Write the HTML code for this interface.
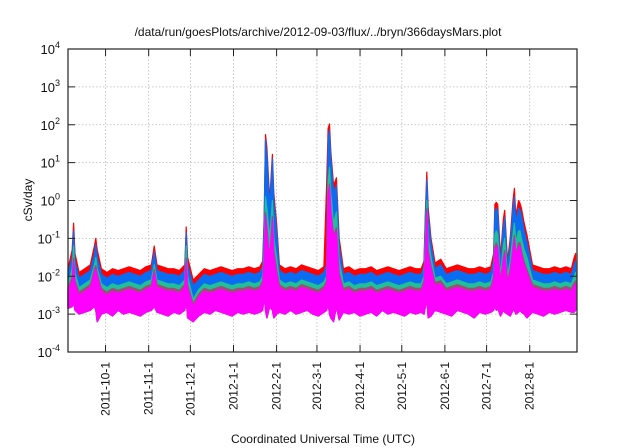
<!DOCTYPE html>
<html><head><meta charset="utf-8"><style>
html,body{margin:0;padding:0;background:#fff;}
svg{display:block;font-family:"Liberation Sans",sans-serif;}
</style></head><body>
<svg id="chart" width="640" height="448" viewBox="0 0 640 448" xmlns="http://www.w3.org/2000/svg">
<rect width="640" height="448" fill="#fff"/>
<text x="318" y="36" font-size="12" text-anchor="middle" fill="#111">/data/run/goesPlots/archive/2012-09-03/flux/../bryn/366daysMars.plot</text>
<text transform="translate(32,200) rotate(-90)" font-size="12" text-anchor="middle" fill="#111">cSv/day</text>
<text x="323" y="443" font-size="12" text-anchor="middle" fill="#111">Coordinated Universal Time (UTC)</text>
<g id="grid"></g>
<g id="series"></g>
<g id="axes"></g>
</svg>
<script>
const days = [0,3,4,5,8,12,16,19,20,21, 24,28,32,36,40,44,48,52,56,60, 62,64,68,72,76,80,84,85,86,90, 94,98,102,106,110,114,118,122,126,130, 134,138,140,141,142,143,145,147,148,150, 152,156,160,164,168,172,176,180,184,186, 187,188,189,191,193,195,198,202,206,210, 214,218,222,226,230,234,238,242,246,250, 254,256,257,258,259,261,264,268,272,276, 280,284,288,292,296,300,304,306,307,308, 309,311,313,314,316,318,320,321,322,324, 325,326,328,330,334,338,342,346,350,354, 358,362,364,365];
const redTop = [-1.8,-1.3,-0.6,-1.4,-1.9,-1.8,-1.7,-1.2,-1.0,-1.3, -1.8,-1.9,-1.8,-1.85,-1.8,-1.75,-1.8,-1.85,-1.75,-1.7, -1.2,-1.7,-1.75,-1.8,-1.8,-1.85,-1.7,-0.7,-1.5,-2.1, -1.95,-1.8,-1.85,-1.8,-1.75,-1.8,-1.85,-1.8,-1.8,-1.75, -1.8,-1.75,-1.6,-0.5,1.74,1.4,0.0,1.22,0.2,-0.6, -1.7,-1.8,-1.75,-1.8,-1.7,-1.75,-1.8,-1.85,-1.75,0.5, 1.9,2.02,1.3,0.4,0.6,-1.0,-1.8,-1.75,-1.85,-1.8, -1.8,-1.75,-1.85,-1.8,-1.75,-1.8,-1.85,-1.8,-1.75,-1.8, -1.8,-1.6,-0.3,0.75,-0.2,-1.0,-1.65,-1.55,-1.8,-1.75, -1.7,-1.75,-1.8,-1.8,-1.75,-1.8,-1.75,-1.4,-0.1,-0.05, -0.1,-1.5,-0.5,-0.26,-1.6,-1.0,0.0,0.32,-0.4,0.0, -0.07,-0.2,-0.6,-0.9,-1.7,-1.75,-1.8,-1.8,-1.75,-1.8, -1.75,-1.8,-1.5,-1.4];
const blueTop = [-1.95,-1.5,-0.8,-1.6,-2.05,-1.95,-1.85,-1.4,-1.15,-1.5, -1.95,-2.05,-1.95,-2.0,-1.95,-1.9,-1.95,-2.0,-1.9,-1.85, -1.35,-1.85,-1.9,-1.95,-1.95,-2.0,-1.85,-0.85,-1.7,-2.25, -2.1,-1.95,-2.0,-1.95,-1.9,-1.95,-2.0,-1.95,-1.95,-1.9, -1.95,-1.9,-1.75,-0.7,1.6,1.2,-0.2,1.1,0.0,-0.8, -1.85,-1.95,-1.9,-1.95,-1.85,-1.9,-1.95,-2.0,-1.9,-1.7, 1.6,1.85,1.1,0.2,0.4,-1.2,-1.95,-1.9,-2.0,-1.95, -1.95,-1.9,-2.0,-1.95,-1.9,-1.95,-2.0,-1.95,-1.9,-1.95, -1.95,-1.75,-0.5,0.55,-0.4,-1.15,-1.8,-1.7,-1.95,-1.9, -1.85,-1.9,-1.95,-1.95,-1.9,-1.95,-1.9,-1.6,-0.3,-0.2, -0.3,-1.7,-0.7,-0.45,-1.75,-1.2,-0.2,0.1,-0.6,-0.2, -0.25,-0.4,-0.8,-1.1,-1.85,-1.9,-1.95,-1.95,-1.9,-1.95, -1.9,-1.95,-1.7,-1.6];
const greenTop = [-2.2,-1.8,-1.2,-1.9,-2.3,-2.2,-2.1,-1.7,-1.5,-1.8, -2.2,-2.3,-2.2,-2.25,-2.2,-2.15,-2.2,-2.25,-2.15,-2.1, -1.7,-2.1,-2.15,-2.2,-2.2,-2.25,-2.1,-1.2,-2.0,-2.6, -2.35,-2.2,-2.25,-2.2,-2.15,-2.2,-2.25,-2.2,-2.2,-2.15, -2.2,-2.15,-2.0,-1.3,0.1,-0.2,-1.0,0.0,-1.0,-1.5, -2.1,-2.2,-2.15,-2.2,-2.1,-2.15,-2.2,-2.25,-2.15,-2.0, 0.5,0.88,0.2,-0.6,-0.3,-1.6,-2.2,-2.15,-2.25,-2.2, -2.2,-2.15,-2.25,-2.2,-2.15,-2.2,-2.25,-2.2,-2.15,-2.2, -2.2,-2.0,-1.0,0.0,-1.0,-1.5,-2.05,-2.0,-2.2,-2.15, -2.1,-2.15,-2.2,-2.2,-2.15,-2.2,-2.15,-1.9,-0.9,-0.8, -0.9,-2.0,-1.2,-1.0,-2.0,-1.6,-0.9,-0.6,-1.1,-0.8, -0.8,-1.0,-1.3,-1.5,-2.1,-2.15,-2.2,-2.2,-2.15,-2.2, -2.15,-2.2,-2.0,-1.9];
const magentaTop = [-2.4,-2.1,-1.6,-2.2,-2.5,-2.4,-2.3,-1.9,-1.8,-2.0, -2.4,-2.5,-2.4,-2.45,-2.4,-2.35,-2.4,-2.45,-2.35,-2.3, -1.9,-2.3,-2.35,-2.4,-2.4,-2.45,-2.3,-1.6,-2.3,-2.8, -2.55,-2.4,-2.45,-2.4,-2.35,-2.4,-2.45,-2.4,-2.4,-2.35, -2.4,-2.35,-2.2,-1.6,-0.4,-0.8,-1.6,-0.5,-1.4,-1.9, -2.3,-2.4,-2.35,-2.4,-2.3,-2.35,-2.4,-2.45,-2.35,-2.2, 0.1,0.35,-0.3,-1.0,-0.8,-2.0,-2.4,-2.35,-2.45,-2.4, -2.4,-2.35,-2.45,-2.4,-2.35,-2.4,-2.45,-2.4,-2.35,-2.4, -2.4,-2.2,-1.4,-0.3,-1.4,-1.8,-2.25,-2.2,-2.4,-2.35, -2.3,-2.35,-2.4,-2.4,-2.35,-2.4,-2.35,-2.1,-1.3,-1.2, -1.3,-2.2,-1.6,-1.4,-2.2,-1.9,-1.3,-1.0,-1.5,-1.2, -1.2,-1.4,-1.7,-1.9,-2.3,-2.35,-2.4,-2.4,-2.35,-2.4, -2.35,-2.4,-2.25,-2.2];
const magentaBottom = [-2.85,-2.8,-2.7,-2.9,-3.0,-2.95,-2.9,-2.8,-2.9,-3.2, -3.0,-2.95,-3.05,-2.9,-3.0,-2.95,-3.0,-3.05,-2.95,-2.9, -2.8,-2.95,-3.0,-3.05,-2.95,-3.0,-2.9,-2.6,-3.1,-3.2, -3.05,-2.95,-3.0,-2.9,-2.95,-3.0,-3.05,-2.95,-3.0,-2.95, -3.0,-2.95,-2.9,-2.5,-2.9,-3.1,-2.8,-2.9,-3.1,-3.0, -2.95,-3.0,-2.9,-3.0,-2.95,-2.9,-3.0,-3.05,-2.95,-2.9, -2.7,-3.0,-3.1,-3.2,-2.8,-3.15,-2.95,-3.0,-2.95,-3.05, -3.0,-2.95,-3.05,-2.9,-3.0,-2.95,-3.0,-3.05,-2.95,-3.0, -2.95,-3.0,-2.8,-2.6,-3.1,-3.05,-2.9,-2.95,-3.0,-3.05, -2.9,-2.95,-3.0,-3.1,-2.95,-3.0,-2.95,-2.9,-2.8,-2.9, -2.85,-3.05,-2.9,-2.95,-3.0,-3.05,-2.9,-2.9,-3.0,-2.95, -2.9,-2.95,-3.0,-3.1,-2.95,-3.0,-3.05,-2.95,-3.0,-2.95, -2.9,-2.95,-2.95,-2.9];
const yTickExps = [4,3,2,1,0,-1,-2,-3,-4];
const xTickDays = [27,58,88,119,150,179,210,240,271,301,332];
const xTickLabels = ["2011-10-1","2011-11-1","2011-12-1","2012-1-1","2012-2-1","2012-3-1","2012-4-1","2012-5-1","2012-6-1","2012-7-1","2012-8-1"];

const L=68,R=577,T=49,B=352, NDAYS=366;
const xs = d => L + d*(R-L)/NDAYS;
const ys = v => T + (4 - v)*(B-T)/8;
const NS="http://www.w3.org/2000/svg";
function mk(tag, attrs, parent){const e=document.createElementNS(NS,tag);for(const k in attrs)e.setAttribute(k,attrs[k]);parent.appendChild(e);return e;}
const grid=document.getElementById('grid'), ser=document.getElementById('series'), axes=document.getElementById('axes');

yTickExps.forEach(e=>{
  const y=ys(e);
  if(e<4&&e>-4){const g=mk('line',{x1:L,x2:R,y1:y,y2:y,stroke:'#bbb','stroke-width':0.8,'stroke-dasharray':'1.5,2'},grid);
  
  }
  const t1=mk('line',{x1:L,x2:L+7,y1:y,y2:y,stroke:'#222','stroke-width':1},axes);
  
  
  const t2=mk('line',{x1:R-7,x2:R,y1:y,y2:y,stroke:'#222','stroke-width':1},axes);
  
  
  const tx=mk('text',{x:L-8,y:y+5,'font-size':13,'text-anchor':'end',fill:'#111'},axes);
  
  
  tx.textContent='10';
  const sp=mk('tspan',{dy:-6,'font-size':9},tx); sp.textContent=String(e);
});
xTickDays.forEach((d,i)=>{
  const x=xs(d);
  const g=mk('line',{x1:x,x2:x,y1:T,y2:B,stroke:'#bbb','stroke-width':0.8,'stroke-dasharray':'1.5,2'},grid);
  
  
  const t1=mk('line',{x1:x,x2:x,y1:B-7,y2:B,stroke:'#222','stroke-width':1},axes);
  
  
  const t2=mk('line',{x1:x,x2:x,y1:T,y2:T+7,stroke:'#222','stroke-width':1},axes);
  
  
  const tx=mk('text',{transform:`translate(${x+4},362) rotate(-90)`,'font-size':12,'text-anchor':'end',fill:'#111'},axes);
  
  
  tx.textContent=xTickLabels[i];
});
function band(top,bottom,color,name){
  let p=days.map((d,i)=>`${xs(d).toFixed(1)},${ys(top[i]).toFixed(1)}`);
  for(let i=days.length-1;i>=0;i--)p.push(`${xs(days[i]).toFixed(1)},${ys(bottom[i]).toFixed(1)}`);
  const e=mk('polygon',{points:p.join(' '),fill:color,stroke:color,'stroke-width':1.2,'stroke-linejoin':'round'},ser);
  
  
}
band(redTop,magentaBottom,'#ff0000','series-red');
band(blueTop,magentaBottom,'#0a6cf0','series-blue');
band(greenTop,magentaBottom,'#1fbf9a','series-green');
band(magentaTop.map(v=>v+0.08),magentaBottom,'#9a5070','series-brown');
band(magentaTop,magentaBottom,'#ff00ff','series-magenta');
const fr=mk('rect',{x:L,y:T,width:R-L,height:B-T,fill:'none',stroke:'#222','stroke-width':1.2},axes);


</script>
</body></html>
